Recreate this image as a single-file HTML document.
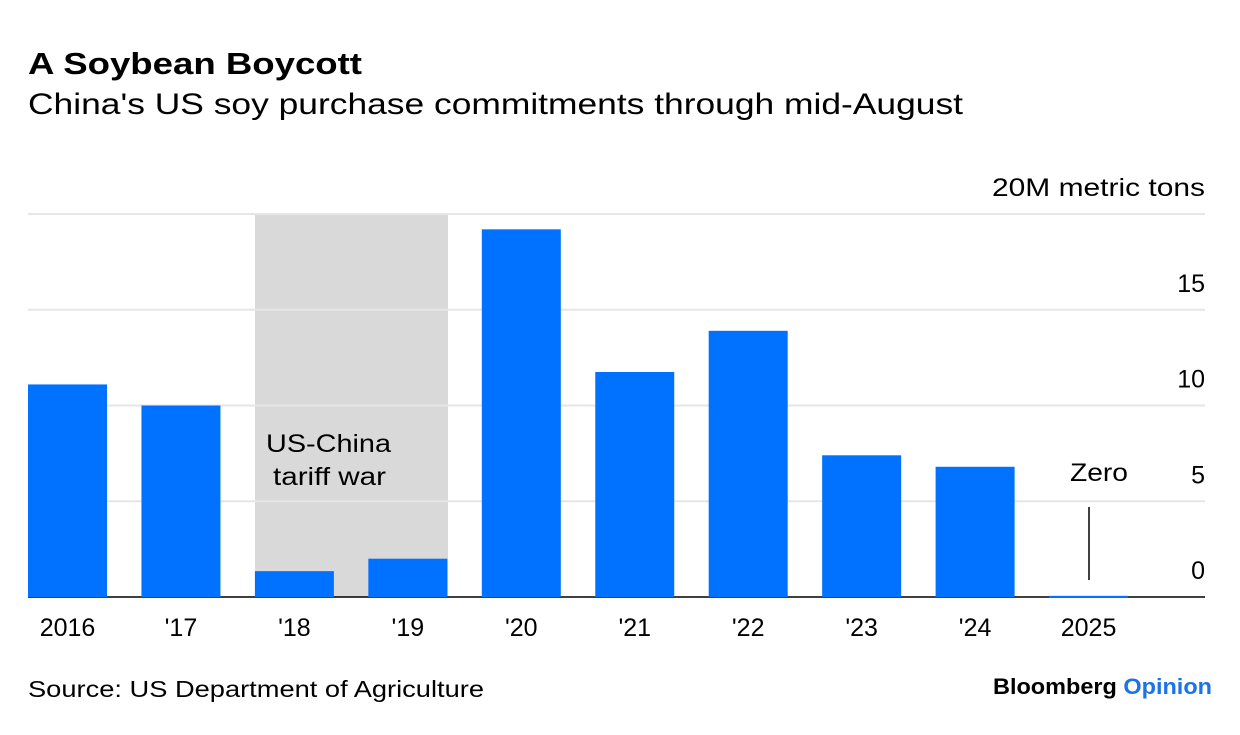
<!DOCTYPE html>
<html><head><meta charset="utf-8"><style>
body{margin:0;background:#fff;font-family:"Liberation Sans",sans-serif;}
</style></head><body>
<svg width="1240" height="730" xmlns="http://www.w3.org/2000/svg" id="svg" font-family="Liberation Sans, sans-serif">
<text x="28" y="74" font-size="31" font-weight="bold" fill="#000" textLength="334" lengthAdjust="spacingAndGlyphs">A Soybean Boycott</text>
<text x="28" y="114" font-size="30" fill="#000" textLength="935" lengthAdjust="spacingAndGlyphs">China's US soy purchase commitments through mid-August</text>
<rect x="255" y="214" width="193" height="383" fill="#d9d9d9"/>
<text font-size="25" fill="#000"><tspan x="266" y="452" textLength="125" lengthAdjust="spacingAndGlyphs">US-China</tspan><tspan x="273" y="485" textLength="113" lengthAdjust="spacingAndGlyphs">tariff war</tspan></text>
<g id="grid"></g><g id="bars"></g><g id="xlabels"></g><g id="ylabels"></g>
<text x="1070" y="481" font-size="25" textLength="58" lengthAdjust="spacingAndGlyphs" fill="#000">Zero</text>
<line x1="1089" y1="507" x2="1089" y2="580" stroke="#000" stroke-width="1.5"/>
<text x="28" y="697" font-size="23" fill="#000" textLength="456" lengthAdjust="spacingAndGlyphs">Source: US Department of Agriculture</text>
<text x="993" y="694" font-size="22" font-weight="bold" textLength="219" lengthAdjust="spacingAndGlyphs"><tspan fill="#000">Bloomberg </tspan><tspan fill="#1a73e8">Opinion</tspan></text>
</svg>
<script>
const categories=["2016","'17","'18","'19","'20","'21","'22","'23","'24","2025"];
const values=[11.1,10.0,1.35,2.0,19.2,11.75,13.9,7.4,6.8,0.06];
const yTicks=[0,5,10,15,20];
const yTickLabels=["0","5","10","15","20M metric tons"];
const NS="http://www.w3.org/2000/svg";
const y0=597,y20=214;
function yScale(v){return y0-(v/20)*(y0-y20);}
function xScale(i){return 28+i*113.45;}
const bw=79;
function mk(tag,attrs,parent){const e=document.createElementNS(NS,tag);for(const k in attrs)e.setAttribute(k,attrs[k]);document.getElementById(parent).appendChild(e);return e;}
yTicks.forEach((t,i)=>{
  if(t>0){const l=mk('line',{x1:28,x2:1205,y1:yScale(t),y2:yScale(t),stroke:'#e6e6e6','stroke-width':2},'grid');
  
  }
  const tx=mk('text',{x:1205,y:yScale(t)-18,'font-size':25,'text-anchor':'end',fill:'#000'},'ylabels');
  tx.textContent=yTickLabels[i];
  if(t===20){tx.setAttribute('textLength','213');tx.setAttribute('lengthAdjust','spacingAndGlyphs');}
  
  
});
values.forEach((v,i)=>{
  const top=yScale(v);
  const r=mk('rect',{x:xScale(i),y:top,width:bw,height:Math.max(y0-top,1.5),fill:'#0072ff'},'bars');
  
  
  const t=mk('text',{x:xScale(i)+bw/2,y:636,'font-size':25,'text-anchor':'middle',fill:'#000'},'xlabels');
  t.textContent=categories[i];
  
  
});
const base=mk('line',{x1:28,x2:1205,y1:y0,y2:y0,stroke:'#000','stroke-width':1.5},'grid');


</script>
</body></html>
